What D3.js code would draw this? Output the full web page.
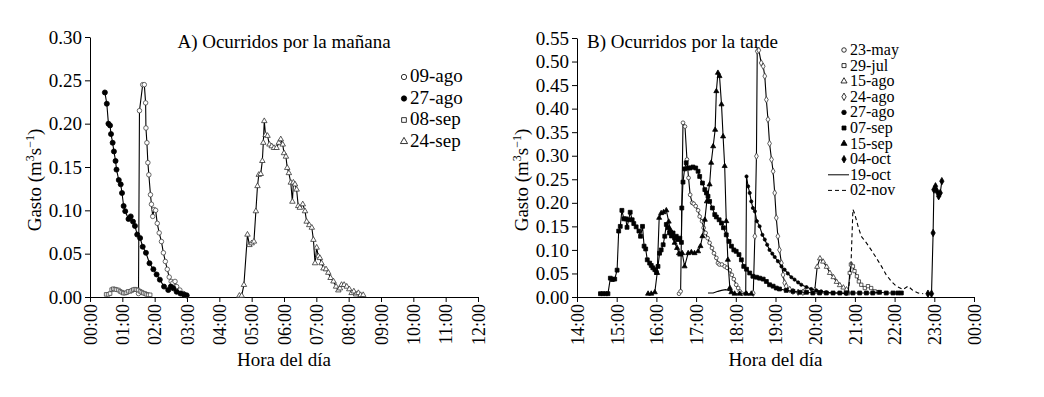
<!DOCTYPE html>
<html>
<head>
<meta charset="utf-8">
<script src="https://cdn.jsdelivr.net/npm/d3@7"></script>
<style>
  body { margin: 0; background: #fff; }
  .axis path, .axis line { stroke: #000; stroke-width: 1; }
  .axis text { fill: #000; }
  .label { fill: #000; }
  .line { fill: none; stroke: #000; stroke-width: 1.1; }
</style>
</head>
<body>
<svg id="chart" width="1044" height="397" font-family="Liberation Serif"></svg>
<script>
//////////////////// DATA ////////////////////
// time in decimal hours, discharge in m3/s

// A) morning events
const am_09ago = [[1.50,0.004],[1.53,0.215],[1.63,0.245],[1.68,0.245],[1.72,0.224],[1.73,0.195],[1.76,0.178],[1.79,0.155],
  [1.82,0.141],[1.87,0.118],[1.90,0.107],[1.94,0.093],[1.98,0.101],[2.03,0.100],[2.08,0.085],[2.14,0.074],[2.21,0.064],
  [2.27,0.051],[2.33,0.041],[2.39,0.032],[2.45,0.023],[2.51,0.018],[2.56,0.016],[2.63,0.018],[2.68,0.012],[2.78,0.008],
  [2.89,0.004],[2.99,0.0015]];
const am_27ago = [[0.46,0.236],[0.52,0.223],[0.57,0.200],[0.62,0.198],[0.65,0.188],[0.70,0.178],[0.74,0.168],[0.79,0.157],
  [0.82,0.147],[0.89,0.135],[0.95,0.130],[0.99,0.120],[1.04,0.105],[1.09,0.099],[1.19,0.090],[1.26,0.093],[1.33,0.087],
  [1.39,0.082],[1.46,0.072],[1.55,0.068],[1.63,0.058],[1.73,0.051],[1.84,0.039],[1.96,0.032],[2.06,0.026],[2.16,0.020],
  [2.29,0.012],[2.42,0.008],[2.50,0.012],[2.58,0.010],[2.68,0.006],[2.80,0.004],[2.90,0.003],[2.99,0.002]];
const am_08sep = [[0.50,0.003],[0.56,0.003],[0.62,0.004],[0.67,0.0085],[0.72,0.0095],[0.77,0.009],[0.82,0.0085],[0.88,0.008],
  [0.93,0.0065],[0.98,0.0055],[1.03,0.0045],[1.08,0.0045],[1.13,0.005],[1.18,0.0065],[1.24,0.0065],[1.29,0.0075],
  [1.34,0.0085],[1.39,0.009],[1.44,0.0085],[1.49,0.008],[1.55,0.0065],[1.60,0.0055],[1.65,0.0045],[1.70,0.004],
  [1.75,0.003],[1.80,0.0025],[1.86,0.0025]];
const am_24sep = [[4.62,0.0015],[4.69,0.0015],[4.76,0.014],[4.87,0.072],[4.93,0.060],[5.00,0.062],[5.07,0.064],[5.13,0.099],
  [5.18,0.128],[5.22,0.141],[5.28,0.142],[5.33,0.157],[5.36,0.178],[5.39,0.203],[5.43,0.187],[5.49,0.186],[5.55,0.176],
  [5.62,0.174],[5.69,0.172],[5.77,0.172],[5.84,0.178],[5.90,0.182],[5.96,0.176],[6.00,0.166],[6.06,0.162],[6.10,0.149],
  [6.15,0.143],[6.21,0.132],[6.26,0.110],[6.29,0.132],[6.34,0.130],[6.39,0.124],[6.44,0.105],[6.49,0.103],[6.58,0.107],
  [6.65,0.099],[6.70,0.087],[6.78,0.083],[6.86,0.080],[6.91,0.066],[6.96,0.039],[7.01,0.057],[7.06,0.047],[7.11,0.045],
  [7.16,0.039],[7.22,0.033],[7.30,0.032],[7.37,0.028],[7.44,0.022],[7.53,0.018],[7.61,0.012],[7.68,0.0077],[7.73,0.010],
  [7.78,0.014],[7.86,0.014],[7.94,0.012],[8.02,0.009],[8.09,0.0046],[8.16,0.0065],[8.23,0.003],[8.30,0.0046],[8.37,0.0023],
  [8.45,0.0023]];

// B) afternoon events
const pm_23may = [[16.57,0.007],[16.61,0.012],[16.67,0.370],[16.72,0.362],[16.77,0.292],[16.81,0.253],[16.85,0.217],
  [16.90,0.200],[16.94,0.198],[16.99,0.193],[17.05,0.184],[17.09,0.171],[17.15,0.161],[17.19,0.147],[17.24,0.136],
  [17.29,0.125],[17.34,0.115],[17.40,0.104],[17.45,0.093],[17.51,0.083],[17.55,0.072],[17.59,0.069],[17.65,0.069],
  [17.72,0.065],[17.78,0.062],[17.85,0.057],[17.90,0.047],[17.95,0.038],[18.01,0.026],[18.06,0.019],[18.10,0.012],
  [18.16,0.007]];
const pm_29jul = [[20.83,0.008],[20.87,0.051],[20.90,0.069],[20.95,0.065],[20.99,0.055],[21.05,0.044],[21.10,0.033],
  [21.16,0.026],[21.25,0.019],[21.33,0.023],[21.41,0.019],[21.50,0.012],[21.58,0.010]];
const pm_15ago = [[19.99,0.015],[20.05,0.064],[20.12,0.082],[20.20,0.075],[20.29,0.064],[20.37,0.051],[20.46,0.042],
  [20.54,0.032],[20.62,0.025],[20.71,0.020],[20.79,0.016]];
const pm_24ago = [[18.44,0.008],[18.48,0.129],[18.52,0.299],[18.54,0.522],[18.58,0.524],[18.64,0.497],[18.69,0.490],
  [18.73,0.469],[18.77,0.419],[18.81,0.377],[18.85,0.326],[18.90,0.292],[18.94,0.267],[18.98,0.221],[19.02,0.168],
  [19.06,0.129],[19.10,0.100],[19.15,0.072],[19.19,0.047],[19.23,0.030],[19.27,0.023],[19.36,0.016],[19.44,0.012],
  [19.57,0.010],[19.69,0.010],[19.73,0.012]];
const pm_27ago = [[18.25,0.008],[18.27,0.256],[18.31,0.235],[18.35,0.221],[18.39,0.203],[18.43,0.189],[18.48,0.182],
  [18.53,0.161],[18.60,0.150],[18.67,0.132],[18.73,0.122],[18.79,0.111],[18.85,0.100],[18.92,0.092],[18.98,0.085],
  [19.06,0.076],[19.15,0.065],[19.23,0.058],[19.31,0.050],[19.40,0.042],[19.48,0.037],[19.57,0.031],[19.65,0.026],
  [19.78,0.021],[19.90,0.017],[20.03,0.014],[20.15,0.012],[20.28,0.010],[20.45,0.0085],[20.62,0.0085],[20.78,0.007]];
const pm_07sep = [[14.59,0.007],[14.65,0.007],[14.72,0.007],[14.78,0.007],[14.84,0.040],[14.89,0.037],[14.95,0.038],
  [15.01,0.057],[15.05,0.140],[15.09,0.150],[15.13,0.184],[15.18,0.166],[15.23,0.166],[15.26,0.148],[15.30,0.164],
  [15.34,0.180],[15.39,0.164],[15.43,0.156],[15.49,0.149],[15.56,0.140],[15.60,0.129],[15.65,0.150],[15.69,0.108],
  [15.73,0.102],[15.77,0.079],[15.83,0.072],[15.87,0.067],[15.91,0.062],[15.96,0.058],[16.00,0.052],[16.04,0.065],
  [16.08,0.093],[16.12,0.100],[16.17,0.111],[16.21,0.129],[16.25,0.154],[16.29,0.147],[16.33,0.136],[16.38,0.130],
  [16.42,0.136],[16.46,0.125],[16.50,0.129],[16.54,0.122],[16.59,0.125],[16.63,0.116],[16.64,0.189],[16.67,0.244],
  [16.71,0.272],[16.75,0.285],[16.80,0.274],[16.85,0.274],[16.92,0.276],[16.99,0.274],[17.05,0.267],[17.09,0.256],
  [17.16,0.242],[17.22,0.228],[17.26,0.221],[17.30,0.214],[17.34,0.203],[17.41,0.189],[17.47,0.175],[17.51,0.170],
  [17.58,0.164],[17.64,0.157],[17.69,0.147],[17.76,0.132],[17.83,0.118],[17.89,0.108],[17.95,0.100],[18.01,0.097],
  [18.08,0.090],[18.14,0.079],[18.20,0.065],[18.27,0.059],[18.35,0.051],[18.43,0.044],[18.52,0.042],[18.60,0.040],
  [18.69,0.038],[18.77,0.033],[18.85,0.026],[18.94,0.023],[19.02,0.019],[19.10,0.017],[19.27,0.014],[19.44,0.012],
  [19.61,0.010],[19.78,0.010],[19.94,0.0085],[20.11,0.0085],[20.28,0.0085],[20.45,0.0085],[20.62,0.0085],
  [20.78,0.0085],[20.95,0.0085],[21.12,0.0085],[21.29,0.0085],[21.45,0.0085],[21.62,0.010],[21.79,0.0085],
  [21.96,0.0085],[22.08,0.0085],[22.17,0.0085]];
const pm_15sep = [[15.79,0.007],[15.87,0.007],[15.96,0.010],[16.02,0.051],[16.07,0.168],[16.12,0.178],[16.18,0.180],
  [16.25,0.184],[16.31,0.160],[16.35,0.143],[16.40,0.129],[16.46,0.115],[16.52,0.104],[16.57,0.093],[16.60,0.090],
  [16.65,0.093],[16.71,0.065],[16.80,0.093],[16.88,0.095],[16.96,0.093],[17.05,0.097],[17.11,0.108],[17.16,0.129],
  [17.22,0.164],[17.27,0.203],[17.34,0.239],[17.38,0.285],[17.43,0.320],[17.48,0.355],[17.51,0.437],[17.55,0.476],
  [17.59,0.469],[17.64,0.409],[17.68,0.341],[17.72,0.278],[17.76,0.161],[17.80,0.079],[17.85,0.019],[17.89,0.010],
  [17.97,0.007],[18.10,0.007],[18.27,0.007],[18.39,0.007]];
const pm_04oct = [[22.84,0.007],[22.93,0.007],[22.97,0.136],[22.99,0.228],[23.03,0.235],[23.07,0.224],[23.11,0.214],
  [23.15,0.221],[23.19,0.246]];
const pm_19oct = [[17.30,0.0085],[17.43,0.0085],[17.55,0.012],[17.64,0.014],[17.74,0.0156],[17.83,0.014],[17.93,0.010]];
const pm_02nov = [[20.83,0.0085],[20.90,0.065],[20.95,0.186],[20.99,0.178],[21.08,0.150],[21.16,0.129],[21.29,0.115],
  [21.41,0.100],[21.54,0.083],[21.67,0.065],[21.79,0.047],[21.92,0.033],[22.04,0.023],[22.21,0.016],[22.34,0.023],
  [22.46,0.014],[22.59,0.0085],[22.72,0.007]];

// tick values
const amHours = d3.range(0, 13);
const pmHours = d3.range(14, 25);
const amTicksY = d3.range(0, 0.3001, 0.05);
const pmTicksY = d3.range(0, 0.5501, 0.05);


//////////////////// SERIES STYLES ////////////////////
const amSeries = [
  { name: "09-ago", data: am_09ago, symbol: d3.symbolCircle, fill: "#fff", stroke: "#444", size: 16 },
  { name: "27-ago", data: am_27ago, symbol: d3.symbolCircle, fill: "#000", stroke: "#000", size: 20 },
  { name: "08-sep", data: am_08sep, symbol: d3.symbolSquare, fill: "#fff", stroke: "#444", size: 13 },
  { name: "24-sep", data: am_24sep, symbol: d3.symbolTriangle, fill: "#fff", stroke: "#333", size: 13 }
];

const pmSeries = [
  { name: "23-may", data: pm_23may, symbol: d3.symbolCircle, fill: "#fff", stroke: "#333", size: 11 },
  { name: "29-jul", data: pm_29jul, symbol: d3.symbolSquare, fill: "#fff", stroke: "#333", size: 11 },
  { name: "15-ago", data: pm_15ago, symbol: d3.symbolTriangle, fill: "#fff", stroke: "#333", size: 11 },
  { name: "24-ago", data: pm_24ago, symbol: d3.symbolDiamond, fill: "#fff", stroke: "#333", size: 12 },
  { name: "27-ago", data: pm_27ago, symbol: d3.symbolCircle, fill: "#000", stroke: "#000", size: 8 },
  { name: "07-sep", data: pm_07sep, symbol: d3.symbolSquare, fill: "#000", stroke: "#000", size: 15 },
  { name: "15-sep", data: pm_15sep, symbol: d3.symbolTriangle, fill: "#000", stroke: "#000", size: 11 },
  { name: "04-oct", data: pm_04oct, symbol: d3.symbolDiamond, fill: "#000", stroke: "#000", size: 16 },
  { name: "19-oct", data: pm_19oct, symbol: null, dash: null },
  { name: "02-nov", data: pm_02nov, symbol: null, dash: "4,3" }
];

const FONT = "Liberation Serif";
const svg = d3.select("#chart");
const pad2 = h => String(h % 24).padStart(2, "0") + ":00";


//////////////////// DRAW PANEL ////////////////////
function drawPanel(opt) {
  const x = d3.scaleLinear().domain(opt.xDomain).range([opt.left, opt.right]);
  const y = d3.scaleLinear().domain(opt.yDomain).range([opt.bottom, opt.top]);

  // x axis
  const gx = svg.append("g")
    .attr("class", "axis")
    .attr("transform", `translate(0, ${opt.bottom})`)
    .call(d3.axisBottom(x).tickValues(opt.xTicks).tickFormat(pad2).tickSize(5).tickSizeOuter(0));
  gx.attr("font-family", FONT).attr("font-size", 18);
  gx.selectAll("text")
    .attr("transform", "rotate(-90)")
    .attr("text-anchor", "end")
    .attr("x", -7)
    .attr("y", 0)
    .attr("dy", "0.35em");

  // y axis
  const gy = svg.append("g")
    .attr("class", "axis")
    .attr("transform", `translate(${opt.left}, 0)`)
    .call(d3.axisLeft(y).tickValues(opt.yTicks).tickFormat(d3.format(".2f")).tickSize(5).tickSizeOuter(0));
  gy.attr("font-family", FONT).attr("font-size", 19);
  gy.selectAll("text").attr("x", -8);

  // axis labels
  svg.append("text")
    .attr("class", "label")
    .attr("font-family", FONT)
    .attr("font-size", 19)
    .attr("x", (opt.left + opt.right) / 2)
    .attr("y", 366)
    .attr("text-anchor", "middle")
    .text("Hora del día");

  const yl = svg.append("text")
    .attr("class", "label")
    .attr("font-family", FONT)
    .attr("font-size", 19)
    .attr("transform", `translate(${opt.left - 49}, 180) rotate(-90)`)
    .attr("text-anchor", "middle");
  yl.append("tspan").text("Gasto (m");
  yl.append("tspan").attr("dy", -7).attr("font-size", 12).text("3");
  yl.append("tspan").attr("dy", 7).text("s");
  yl.append("tspan").attr("dy", -7).attr("font-size", 12).text("−1");
  yl.append("tspan").attr("dy", 7).text(")");

  // title
  svg.append("text")
    .attr("class", "label")
    .attr("font-family", FONT)
    .attr("font-size", 19)
    .attr("x", opt.titleX)
    .attr("y", 48)
    .attr("text-anchor", opt.titleAnchor)
    .text(opt.title);

  // lines and markers
  const lineGen = d3.line().x(d => x(d[0])).y(d => y(d[1]));
  opt.series.forEach(s => {
    svg.append("path")
      .attr("class", "line")
      .attr("d", lineGen(s.data))
      .attr("stroke-dasharray", s.dash || null);
    if (s.symbol) {
      svg.append("g").selectAll("path")
        .data(s.data)
        .join("path")
        .attr("d", d3.symbol().type(s.symbol).size(s.size))
        .attr("transform", d => `translate(${x(d[0])}, ${y(d[1])})`)
        .attr("fill", s.fill)
        .attr("stroke", s.stroke)
        .attr("stroke-width", 0.8);
    }
  });

  // legend
  opt.series.forEach((s, i) => {
    const ly = opt.legendY + i * opt.legendStep;
    if (s.symbol) {
      svg.append("path")
        .attr("d", d3.symbol().type(s.symbol).size(opt.legendSym))
        .attr("transform", `translate(${opt.legendX - 6}, ${ly - 5})`)
        .attr("fill", s.fill)
        .attr("stroke", "#000")
        .attr("stroke-width", 0.8);
    } else {
      svg.append("line")
        .attr("x1", opt.legendX - 22).attr("x2", opt.legendX - 1)
        .attr("y1", ly - 5).attr("y2", ly - 5)
        .attr("stroke", "#000")
        .attr("stroke-dasharray", s.dash || null);
    }
    svg.append("text")
      .attr("class", "label")
      .attr("font-family", FONT)
      .attr("font-size", opt.legendFont)
      .attr("x", opt.legendX)
      .attr("y", ly)
      .text(s.name);
  });
}

drawPanel({
  left: 90, right: 478, top: 37, bottom: 297,
  xDomain: [0, 12], yDomain: [0, 0.30],
  xTicks: amHours, yTicks: amTicksY,
  title: "A) Ocurridos por la mañana", titleX: 284, titleAnchor: "middle",
  series: amSeries,
  legendX: 410, legendY: 82, legendStep: 21.5, legendFont: 19, legendSym: 22
});

drawPanel({
  left: 577, right: 974, top: 38, bottom: 297,
  xDomain: [14, 24], yDomain: [0, 0.55],
  xTicks: pmHours, yTicks: pmTicksY,
  title: "B) Ocurridos por la tarde", titleX: 587, titleAnchor: "start",
  series: pmSeries,
  legendX: 850, legendY: 55, legendStep: 15.6, legendFont: 16, legendSym: 16
});
</script>
</body>
</html>
